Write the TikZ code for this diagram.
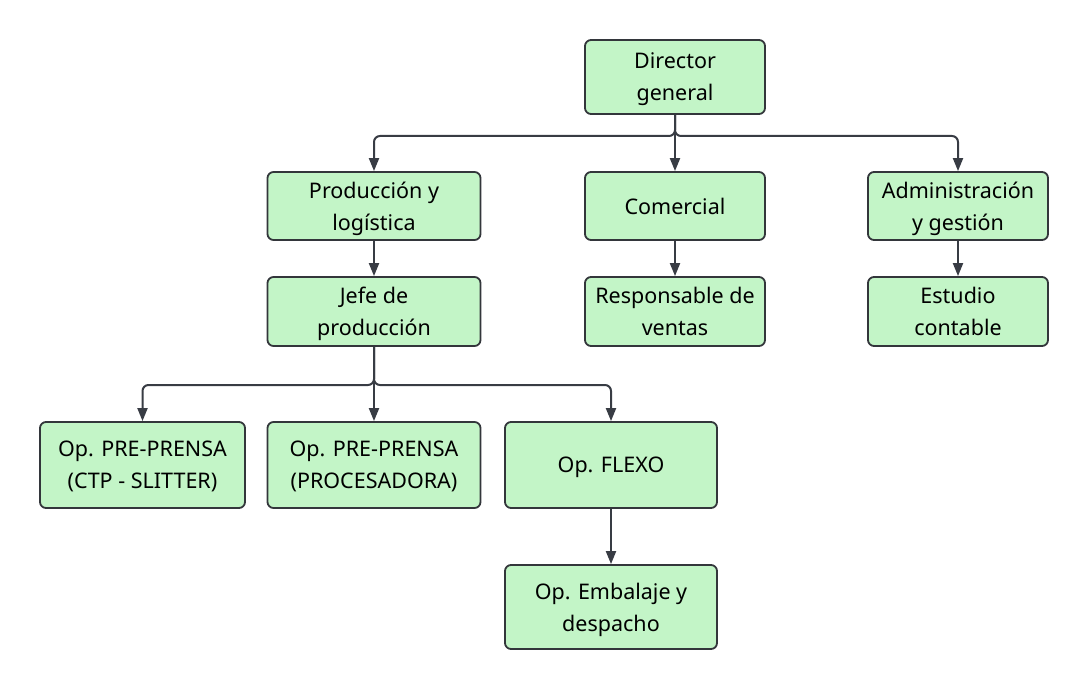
\documentclass[tikz,border=0pt]{standalone}
\usepackage{fontspec}
\setmainfont{Noto Sans}
\usetikzlibrary{arrows.meta}
\definecolor{boxfill}{HTML}{C3F5C7}
\definecolor{boxline}{HTML}{33363B}
\definecolor{edgecol}{HTML}{383C44}
\tikzset{
  box/.style={draw=boxline, fill=boxfill, line width=1.8pt, rounded corners=6pt,
    align=center, inner sep=0pt, text depth=0pt, font=\fontsize{21.5pt}{32pt}\selectfont},
  edge/.style={draw=edgecol, line width=2pt, rounded corners=6pt,
    -{Triangle[length=13pt,width=10pt]}}
}
\begin{document}
\begin{tikzpicture}[x=1pt,y=-1pt]
\useasboundingbox (0,0) rectangle (1089,690);
\node[box, minimum width=180pt, minimum height=74pt] (dir) at (675,77) {Director\\general};
\node[box, minimum width=213pt, minimum height=68pt] (prod) at (374,206) {Producción y\\logística};
\node[box, minimum width=180pt, minimum height=68pt] (com) at (675,206) {Comercial};
\node[box, minimum width=180pt, minimum height=68pt] (adm) at (958,206) {Administración\\y gestión};
\node[box, minimum width=213pt, minimum height=69pt] (jefe) at (374,311.5) {Jefe de\\producción};
\node[box, minimum width=180pt, minimum height=69pt] (resp) at (675,311.5) {Responsable de\\ventas};
\node[box, minimum width=180pt, minimum height=69pt] (est) at (958,311.5) {Estudio\\contable};
\node[box, minimum width=205pt, minimum height=86pt] (ctp) at (142.5,465) {Op. PRE-PRENSA\\(CTP - SLITTER)};
\node[box, minimum width=213pt, minimum height=86pt] (proc) at (374,465) {Op. PRE-PRENSA\\(PROCESADORA)};
\node[box, minimum width=212pt, minimum height=86pt] (flexo) at (611,465) {Op. FLEXO};
\node[box, minimum width=212pt, minimum height=84pt] (emb) at (611,607) {Op. Embalaje y\\despacho};
\coordinate (m1) at (0,136);
\coordinate (m2) at (0,385);
\draw[edge] (dir.south) -- (dir.south |- m1) -- (prod.north |- m1) -- (prod.north);
\draw[edge] (dir.south) -- (com.north);
\draw[edge] (dir.south) -- (dir.south |- m1) -- (adm.north |- m1) -- (adm.north);
\draw[edge] (prod.south) -- (jefe.north);
\draw[edge] (com.south) -- (resp.north);
\draw[edge] (adm.south) -- (est.north);
\draw[edge] (jefe.south) -- (jefe.south |- m2) -- (ctp.north |- m2) -- (ctp.north);
\draw[edge] (jefe.south) -- (proc.north);
\draw[edge] (jefe.south) -- (jefe.south |- m2) -- (flexo.north |- m2) -- (flexo.north);
\draw[edge] (flexo.south) -- (emb.north);
\end{tikzpicture}
\end{document}
